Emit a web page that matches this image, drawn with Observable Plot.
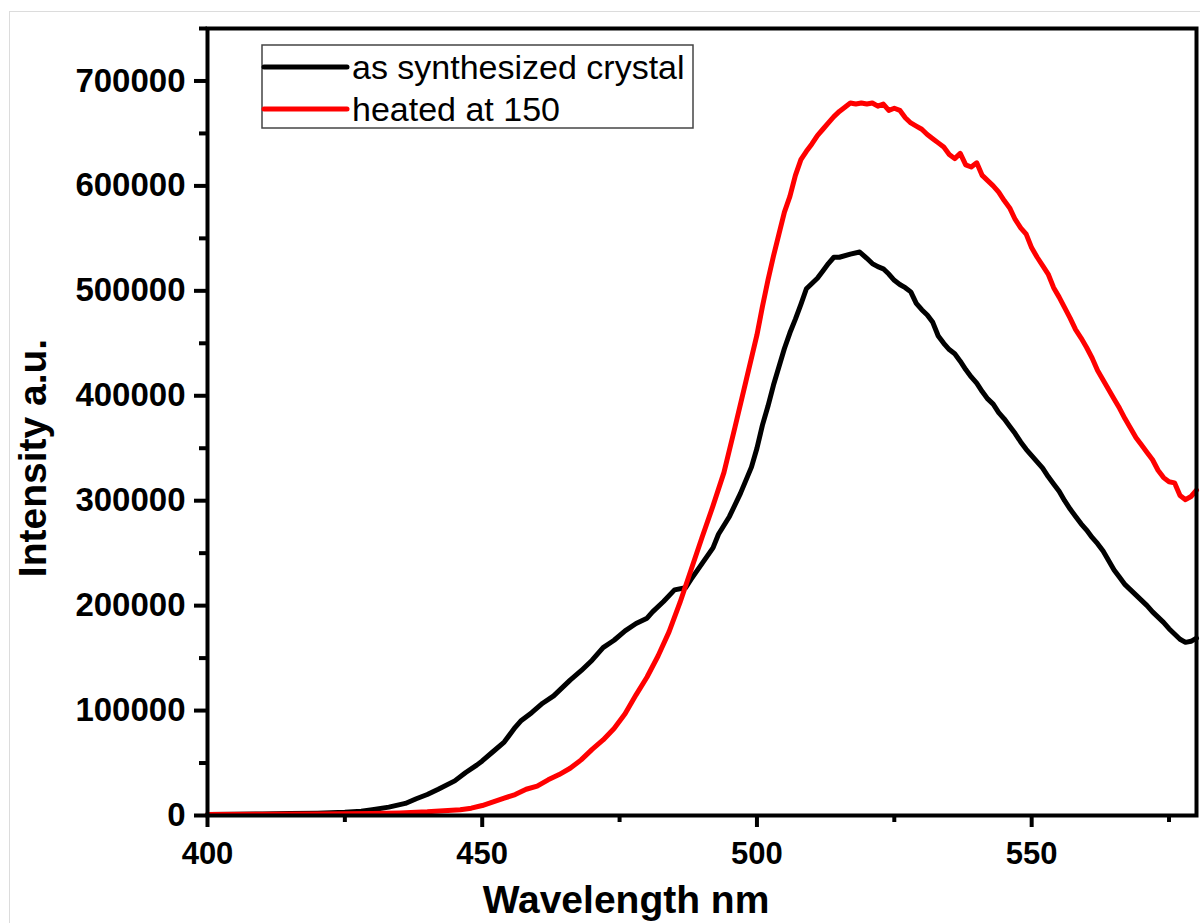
<!DOCTYPE html>
<html>
<head>
<meta charset="utf-8">
<script src="https://cdn.jsdelivr.net/npm/d3@7"></script>
<script src="https://cdn.jsdelivr.net/npm/@observablehq/plot@0.6"></script>
<style>
  html, body { margin: 0; padding: 0; background: #fff; overflow: hidden; }
  #wrap { position: relative; width: 1200px; height: 923px; }
  #edge { position: absolute; left: 9px; top: 11px; width: 1300px; height: 1000px; border: 1px solid #dcdcdc; }
  #chart { position: absolute; left: 0; top: 0; }
</style>
</head>
<body>
<div id="wrap"><div id="edge"></div><div id="chart"></div></div>
<script>
// Photoluminescence spectra (wavelength in nm, intensity in a.u.)
const asSynthNm = [400,405,410,415,420,425,428,430,433,436,438,440,442,445,447,449,450,452,454,456,457,459,461,463,465,466,468,470,472,474,476,478,480,481,483,485,487,488,490,492,493,495,497,499,500,501,502,503,505,506,507,508,509,510,511,512,513,514,515,517,518.7,520,521,522,523,524,525,526,527,528,529,530,531,532,533,534,535,536,537,538,539,540,541,542,543,544,545,546,547,548,549,550,551,552,553,554,555,556,557,558,559,560,561,562,563,564,565,566,567,568,569,570,571,572,573,574,575,576,577,578,579,580];
const asSynthI = [1000,1200,1500,1800,2200,3000,4000,5500,8000,11500,16000,20000,25000,33000,41000,48000,52000,61000,70000,84000,90000,98000,107000,114000,124000,129000,138000,148000,160000,167000,176000,183000,188000,194000,204000,215000,217000,225000,240000,255000,268000,285000,307000,332000,350000,372000,390000,410000,445000,460000,473000,487000,502000,507000,512000,519000,526000,532000,532000,535000,537000,531000,526000,523000,521000,516000,510000,506000,503000,499000,488000,482000,477000,470000,457000,450000,444000,440000,433000,425000,418000,412000,404000,397000,392000,384000,378000,371000,364000,356000,349000,343000,337000,331000,323000,316000,309000,300000,292000,285000,278000,272000,265000,259000,252000,243000,234000,227000,220000,215000,210000,205000,200000,194000,189000,184000,178000,173000,168000,165000,166000,169000];

const heatedNm = [400,410,420,430,435,440,443,446,448,450,452,454,456,458,460,462,464,466,468,470,472,474,476,478,480,482,484,486,488,490,492,494,496,498,500,501,502,503,504,505,506,507,508,509,510,511,512,513,514,515,516,517,518,519,520,521,522,523,524,525,526,527,528,529,530,531,532,533,534,535,536,537,538,539,540,541,542,543,544,545,546,547,548,549,550,551,552,553,554,555,556,557,558,559,560,561,562,563,564,565,566,567,568,569,570,571,572,573,574,575,576,577,578,579,580];
const heatedI = [1000,1200,1500,2000,2500,3500,4500,5500,7000,9500,13000,16500,20000,25000,28000,34000,39000,45000,53000,63000,72000,83000,97000,115000,132000,152000,175000,203000,234000,265000,295000,327000,370000,414000,458000,485000,510000,533000,554000,575000,590000,610000,625000,633000,640000,648000,654000,660000,666000,671000,675000,679000,678000,679000,678000,679000,676000,678000,672000,674000,672000,665000,660000,657000,654000,649000,645000,641000,637000,630000,626000,631000,620000,618000,622000,610000,605000,600000,594000,586000,579000,568000,560000,554000,541000,532000,524000,516000,503000,494000,484000,474000,463000,455000,446000,436000,424000,415000,406000,397000,388000,378000,369000,360000,353000,346000,339000,329000,322000,318000,317000,305000,301000,304000,310000];

const seriesNames = ["as synthesized crystal", "heated at 150"];
const seriesColors = ["#000000", "#ff0000"];

const xMajor = [400, 450, 500, 550];
const xMinor = [425, 475, 525, 575];
const yMajor = [0, 100000, 200000, 300000, 400000, 500000, 600000, 700000];
const yMinor = [50000, 150000, 250000, 350000, 450000, 550000, 650000, 750000];

const rows = [
  ...asSynthNm.map((nm, i) => ({nm, v: asSynthI[i], s: seriesNames[0]})),
  ...heatedNm.map((nm, i) => ({nm, v: heatedI[i], s: seriesNames[1]}))
];

const font = "'Liberation Sans', Arial, sans-serif";

const chart = Plot.plot({
  width: 1200,
  height: 923,
  marginLeft: 207,
  marginRight: 4,
  marginTop: 28,
  marginBottom: 108,
  style: {fontFamily: font, fontSize: "31px", fontWeight: "bold", color: "#000", background: "transparent", overflow: "visible"},
  x: {domain: [400, 580]},
  y: {domain: [0, 750000]},
  color: {domain: seriesNames, range: seriesColors},
  marks: [
    Plot.line(rows, {x: "nm", y: "v", z: "s", stroke: "s", strokeWidth: 5, strokeLinejoin: "round", strokeLinecap: "round"}),
    Plot.axisX({ticks: xMajor, tickSize: 12, tickPadding: 14, strokeWidth: 4, label: null, fill: "#000"}),
    Plot.axisX({ticks: xMinor, tickSize: 7, text: null, strokeWidth: 4, label: null}),
    Plot.axisY({ticks: yMajor, tickSize: 13, tickPadding: 9, tickFormat: d3.format("d"), strokeWidth: 4, label: null, fill: "#000", fontSize: 33}),
    Plot.axisY({ticks: yMinor, tickSize: 8, text: null, strokeWidth: 4, label: null}),
    Plot.frame({stroke: "#000", strokeWidth: 4})
  ]
});
document.getElementById("chart").appendChild(chart);

const svg = d3.select(chart);

// axis titles
svg.append("text")
  .attr("x", 626).attr("y", 913)
  .attr("text-anchor", "middle")
  .style("font", `bold 39px ${font}`)
  .attr("fill", "#000")
  .text("Wavelength nm");

svg.append("text")
  .attr("transform", "translate(46,458) rotate(-90)")
  .attr("text-anchor", "middle")
  .style("font", `bold 39px ${font}`)
  .attr("fill", "#000")
  .text("Intensity a.u.");

// legend box
const lg = svg.append("g").attr("text-anchor", "start");
lg.append("rect")
  .attr("x", 262).attr("y", 45).attr("width", 431).attr("height", 83)
  .attr("fill", "#fff").attr("stroke", "#444").attr("stroke-width", 1.5);
seriesNames.forEach((name, i) => {
  const y = 67 + i * 42;
  lg.append("line")
    .attr("x1", 264).attr("x2", 347).attr("y1", y).attr("y2", y)
    .attr("stroke", seriesColors[i]).attr("stroke-width", 5).attr("stroke-linecap", "round");
  lg.append("text")
    .attr("x", 352).attr("y", y)
    .attr("dy", "0.36em")
    .attr("text-anchor", "start")
    .style("font", `normal 34px ${font}`)
    .attr("fill", "#000")
    .text(name);
});
</script>
</body>
</html>
